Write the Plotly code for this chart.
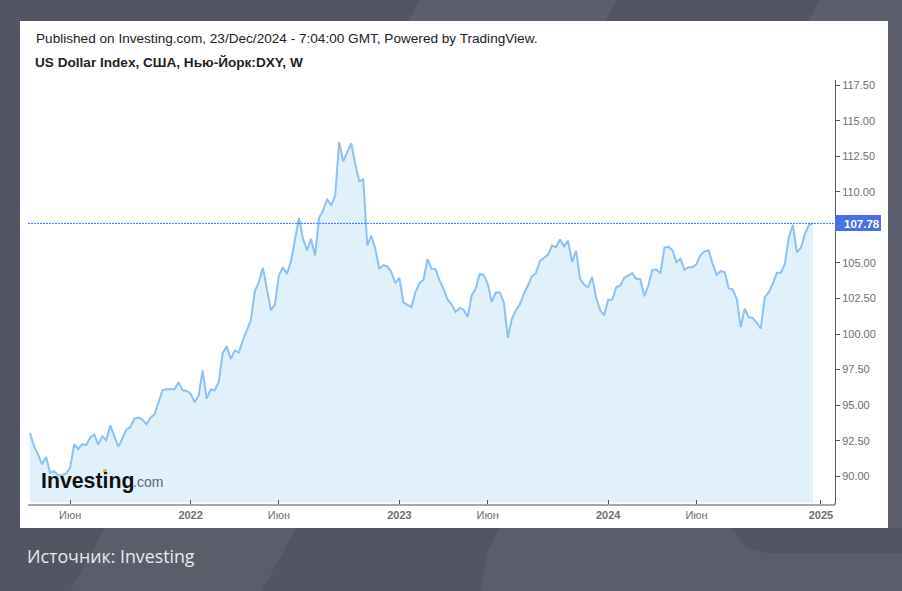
import datetime
import pandas as pd
import plotly.graph_objects as go

W, H = 902, 591

# weekly closes
dxy_close = [
    93.04, 92.11, 91.54, 90.84, 91.36, 90.23, 90.35, 90.07, 90.07, 90.19,
    90.61, 92.25, 91.90, 92.25, 92.18, 92.72, 92.93, 92.22, 92.81, 92.53,
    93.58, 92.76, 92.06, 92.65, 93.28, 93.46, 94.05, 94.12, 93.98, 93.65,
    94.12, 94.35, 95.22, 96.04, 96.11, 96.11, 96.11, 96.60, 96.04, 95.99,
    95.81, 95.20, 95.67, 97.44, 95.45, 96.11, 96.04, 96.62, 98.66, 99.13,
    98.24, 98.85, 98.69, 99.55, 100.20,
    100.96, 103.01, 103.65, 104.66, 103.18, 101.66, 102.08, 104.12, 104.70, 104.23,
    105.12, 106.57, 108.17, 106.69, 105.87, 106.69, 105.52, 108.17, 108.68, 109.50,
    109.03, 109.73, 113.50, 112.15, 112.85, 113.42, 111.96, 110.74, 110.88, 106.22,
    106.92, 105.99, 104.59, 104.84, 104.75, 104.35, 103.57, 103.95, 102.22, 102.08,
    101.89, 102.95, 103.57, 103.81, 105.26, 104.59, 104.56, 103.76,
    103.18, 102.41, 102.08, 101.54, 101.84, 101.71, 101.19, 102.71, 103.18, 104.23,
    104.12, 103.53, 102.24, 102.92, 102.92, 102.24, 99.74, 101.07, 101.66, 102.08,
    102.83, 103.41, 104.04, 104.28, 105.12, 105.36, 105.57, 106.22, 106.10, 106.64,
    106.15, 106.57, 105.05, 105.87, 103.88, 103.48, 103.29, 104.00, 102.55, 101.66,
    101.31, 102.41, 102.41, 103.29, 103.41, 103.95, 104.12, 104.28, 103.88, 103.85,
    102.66, 103.41, 104.51, 104.54, 104.26, 106.06, 106.15, 105.89, 105.05, 105.29,
    104.51, 104.70, 104.70, 104.91, 105.57, 105.80, 105.89, 104.93, 104.16, 104.42,
    104.35, 103.22, 103.13, 102.48, 100.48, 101.78, 101.19, 101.12, 100.79, 100.37,
    102.59, 102.94, 103.53, 104.30, 104.30, 104.93, 106.81, 107.68, 105.75, 106.06,
    107.04, 107.68, 107.78,
]
week_dates = pd.date_range("2021-03-28", periods=len(dxy_close), freq="7D")

x_tick_dates = ["2021-06-06", "2022-01-02", "2022-06-05", "2023-01-01",
                "2023-06-04", "2023-12-31", "2024-06-02", "2025-01-05"]
x_tick_labels = ["Июн", "<b>2022</b>", "Июн", "<b>2023</b>",
                 "Июн", "<b>2024</b>", "Июн", "<b>2025</b>"]
y_ticks = [90, 92.5, 95, 97.5, 100, 102.5, 105, 107.5, 110, 112.5, 115, 117.5]
y_tick_labels = ["90.00", "92.50", "95.00", "97.50", "100.00", "102.50",
                 "105.00", "", "110.00", "112.50", "115.00", "117.50"]
last_price = 107.78

LABEL_GREY = "#6f6f6f"
BG_LIGHT = "#5b5d6a"
BG_DARK = "#535563"


def fx(p):
    return p / W


def fy(p):
    return 1 - p / H


def value_at(p):
    return 90 + (476.2 - p) / 14.22


def date_at(p):
    first = datetime.datetime(2021, 3, 28)
    return first + datetime.timedelta(days=(p - 30) / 0.5736)


def poly(points, color):
    path = "M " + " L ".join("%.4f %.4f" % (fx(a), fy(b)) for a, b in points) + " Z"
    return dict(type="path", path=path, xref="paper", yref="paper", layer="below",
                fillcolor=color, line_width=0)


def note(text, x, y, size, color, bold=False, family="Liberation Sans"):
    return dict(text="<b>%s</b>" % text if bold else text, x=fx(x), y=fy(y),
                xref="paper", yref="paper", xanchor="left", yanchor="middle",
                showarrow=False, font=dict(family=family, size=size, color=color))


shapes = [
    poly([(0, 0), (420, 0), (408, 21), (0, 21)], BG_DARK),
    poly([(618, 0), (820, 0), (808, 21), (605, 21)], BG_DARK),
    poly([(0, 21), (20, 21), (20, 528), (0, 528)], BG_DARK),
    poly([(0, 528), (105, 528), (70, 591), (0, 591)], BG_DARK),
    poly([(296, 528), (500, 528), (488, 550), (480, 591), (262, 591)], BG_DARK),
    poly([(733, 528), (902, 528), (902, 553), (765, 553), (745, 546)], BG_DARK),
    dict(type="rect", xref="paper", yref="paper", layer="below", fillcolor="white", line_width=0,
         x0=fx(20), x1=fx(888), y0=fy(528), y1=fy(21)),
    # the right scale runs down to the time axis
    dict(type="line", xref="paper", yref="paper", line=dict(color="#555555", width=1),
         x0=fx(835), x1=fx(835), y0=fy(505), y1=fy(502.5)),
    dict(type="line", xref="paper", yref="y", line=dict(color="#2f6bff", width=1, dash="2px,1px"),
         x0=fx(28), x1=fx(835), y0=last_price, y1=last_price),
    dict(type="rect", xref="paper", yref="paper", fillcolor="#4a6fe8", line_width=0,
         x0=fx(835), x1=fx(881), y0=fy(231), y1=fy(215)),
    dict(type="circle", xref="paper", yref="paper", fillcolor="#f5a623", line_width=0,
         x0=fx(103), x1=fx(107), y0=fy(473), y1=fy(469)),
]

annotations = [
    note("Published on Investing.com, 23/Dec/2024 - 7:04:00 GMT, Powered by TradingView.",
         34, 38.5, 13.6, "#222222"),
    note("US Dollar Index, США, Нью-Йорк:DXY, W", 33, 62, 13.6, "#222222", bold=True),
    note("107.78", 842, 223.5, 11.5, "white", bold=True),
    note("Investing", 39, 481, 21.3, "#111111", bold=True),
    note(".com", 131, 482, 14, "#666666"),
    note("Источник: Investing", 25, 556, 17.8, "#e9e9ee", family="Open Sans"),
]

trace = go.Scatter(
    x=week_dates,
    y=dxy_close,
    mode="lines",
    line=dict(color="#8cc1f1", width=2),
    fill="tozeroy",
    fillcolor="#e0f1fb",
    hoverinfo="x+y",
)

layout = go.Layout(
    width=W,
    height=H,
    margin=dict(l=0, r=0, t=0, b=0),
    paper_bgcolor=BG_LIGHT,
    plot_bgcolor="rgba(0,0,0,0)",
    showlegend=False,
    font=dict(family="Liberation Sans", size=11, color=LABEL_GREY),
    shapes=shapes,
    annotations=annotations,
    xaxis=dict(
        domain=[fx(28), fx(835)],
        range=[date_at(28), date_at(835)],
        type="date",
        tickvals=x_tick_dates,
        ticktext=x_tick_labels,
        ticks="inside",
        ticklen=4,
        tickcolor="#555555",
        showgrid=False,
        zeroline=False,
        showline=True,
        linecolor="#a8a8a8",
        linewidth=2,
        anchor="free",
        position=fy(505),
        tickfont=dict(size=11, color=LABEL_GREY),
    ),
    yaxis=dict(
        domain=[fy(502.5), fy(80)],
        range=[value_at(502.5), value_at(80)],
        side="right",
        tickvals=y_ticks,
        ticktext=y_tick_labels,
        ticks="outside",
        ticklen=4,
        tickcolor="#555555",
        showgrid=False,
        zeroline=False,
        showline=True,
        linecolor="#555555",
        linewidth=1,
        tickfont=dict(size=11, color=LABEL_GREY),
    ),
)

fig = go.Figure(data=[trace], layout=layout)
fig.write_html("out.html", config=dict(displayModeBar=False),
               post_script="document.body.style.margin='0';")
